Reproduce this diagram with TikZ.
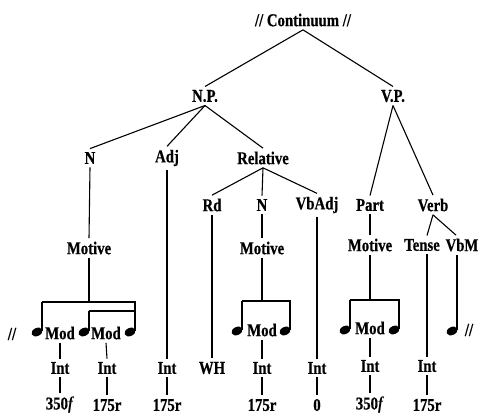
\documentclass[tikz,border=0pt]{standalone}
\usepackage{fontspec}
\setmainfont{Liberation Serif}[BoldFeatures={FakeBold=0.6}]
\usetikzlibrary{shapes.geometric}
\tikzset{
  lbl/.style={font=\fontsize{18}{18}\selectfont\bfseries, inner sep=1pt, outer sep=2.5pt, xscale=0.82},
  edge/.style={line width=1.1pt},
  beam/.style={line width=2.8pt},
  stem/.style={line width=1.1pt},
  head/.style={ellipse, fill=black, draw=none, minimum width=11.5pt, minimum height=8pt, inner sep=0pt, rotate=25},
}
\begin{document}
\begin{tikzpicture}[x=1pt,y=-1pt]
\useasboundingbox (0,0) rectangle (478,415);
% tree labels
\node[lbl] (cont) at (303,20) {// Continuum //};
\node[lbl] (np) at (205,96) {N.P.};
\node[lbl] (vp) at (393,96) {V.P.};
\node[lbl] (n1) at (90,158) {N};
\node[lbl] (adj) at (167,158) {Adj};
\node[lbl] (rel) at (263,158) {Relative};
\node[lbl] (rd) at (212,205) {Rd};
\node[lbl] (n2) at (262,205) {N};
\node[lbl] (vbadj) at (317,205) {VbAdj};
\node[lbl] (part) at (370,205) {Part};
\node[lbl] (verb) at (433,205) {Verb};
\node[lbl] (mot1) at (89,248) {Motive};
\node[lbl] (mot2) at (262,248) {Motive};
\node[lbl] (mot3) at (370,245) {Motive};
\node[lbl] (tense) at (422,245) {Tense};
\node[lbl] (vbm) at (462,245) {VbM};
% bottom labels
\node[lbl] (sl1) at (12,334) {//};
\node[lbl] (m1) at (60,333) {Mod};
\node[lbl] (m2) at (106,333) {Mod};
\node[lbl] (m3) at (262,330) {Mod};
\node[lbl] (m4) at (370,328) {Mod};
\node[lbl] (sl2) at (469,330) {//};
\node[lbl] (i1) at (60,368) {Int};
\node[lbl] (i2) at (107,368) {Int};
\node[lbl] (i3) at (167,368) {Int};
\node[lbl] (wh) at (212,368) {WH};
\node[lbl] (i4) at (262,368) {Int};
\node[lbl] (i5) at (317,368) {Int};
\node[lbl] (i6) at (370,366) {Int};
\node[lbl] (i7) at (427,366) {Int};
\node[lbl] (v1) at (60,405) {350\textit{f}};
\node[lbl] (v2) at (107,405) {175r};
\node[lbl] (v3) at (167,405) {175r};
\node[lbl] (v4) at (262,405) {175r};
\node[lbl] (v5) at (317,405) {0};
\node[lbl] (v6) at (370,405) {350\textit{f}};
\node[lbl] (v7) at (427,405) {175r};
% note heads
\node[head] (h1) at (37,332) {};
\node[head] (h2) at (84,332) {};
\node[head] (h3) at (130,332) {};
\node[head] (h4) at (237,331) {};
\node[head] (h5) at (285,331) {};
\node[head] (h6) at (345,330) {};
\node[head] (h7) at (394,330) {};
\node[head] (h8) at (452,331) {};
% beam coordinates
\coordinate (bA) at (42,302);
\coordinate (bB) at (135,302);
\coordinate (bC) at (89,311);
\coordinate (bD) at (135,311);
\coordinate (bE) at (242,301);
\coordinate (bF) at (290,301);
\coordinate (bG) at (350,300);
\coordinate (bH) at (399,300);
\coordinate (s8) at ([shift={(5,-1)}]h8.center);
% tree edges
\draw[edge] (cont.south) -- (np.north);
\draw[edge] (cont.south) -- (vp.north);
\draw[edge] (np.south) -- (n1.north);
\draw[edge] (np.south) -- (adj.north);
\draw[edge] (np.south) -- (rel.north);
\draw[edge] (vp.south) -- (part.north);
\draw[edge] (vp.south) -- (verb.north);
\draw[edge] (rel.south) -- (rd.north);
\draw[edge] (rel.south) -- (n2.north);
\draw[edge] (rel.south) -- (vbadj.north);
\draw[edge] (verb.south) -- (tense.north -| i7.north);
\draw[edge] (verb.south) -- ([xshift=-1pt]vbm.north -| s8);
\draw[edge] (n1.south) -- (mot1.north);
\draw[edge] (n2.south) -- (mot2.north);
\draw[edge] (part.south) -- (mot3.north);
\draw[edge] (adj.south) -- (i3.north);
\draw[edge] (rd.south) -- (wh.north);
\draw[edge] (vbadj.south) -- (i5.north);
\draw[edge] (tense.south -| i7.north) -- (i7.north);
\draw[edge] (mot1.south) -- (mot1.south |- bA);
\draw[edge] (mot2.south) -- (mot2.south |- bE);
\draw[edge] (mot3.south) -- (mot3.south |- bG);
\draw[edge] (vbm.south -| s8) -- (s8);
% beams and stems
\draw[beam] ([xshift=-0.5pt]bA) -- ([xshift=0.5pt]bB);
\draw[beam] ([xshift=-0.5pt]bC) -- ([xshift=0.5pt]bD);
\draw[beam] ([xshift=-0.5pt]bE) -- ([xshift=0.5pt]bF);
\draw[beam] ([xshift=-0.5pt]bG) -- ([xshift=0.5pt]bH);
\draw[stem] ([shift={(5,-1)}]h1.center) -- (bA);
\draw[stem] ([shift={(5,-1)}]h2.center) -- (bC);
\draw[stem] ([shift={(5,-1)}]h3.center) -- (bB);
\draw[stem] ([shift={(5,-1)}]h4.center) -- (bE);
\draw[stem] ([shift={(5,-1)}]h5.center) -- (bF);
\draw[stem] ([shift={(5,-1)}]h6.center) -- (bG);
\draw[stem] ([shift={(5,-1)}]h7.center) -- (bH);
% lower edges
\draw[edge] (m1.south) -- (i1.north);
\draw[edge] (m2.south) -- (i2.north);
\draw[edge] (m3.south) -- (i4.north);
\draw[edge] (m4.south) -- (i6.north);
\draw[edge] (i1.south) -- (v1.north);
\draw[edge] (i2.south) -- (v2.north);
\draw[edge] (i3.south) -- (v3.north);
\draw[edge] (i4.south) -- (v4.north);
\draw[edge] (i5.south) -- (v5.north);
\draw[edge] (i6.south) -- (v6.north);
\draw[edge] (i7.south) -- (v7.north);
\end{tikzpicture}
\end{document}
